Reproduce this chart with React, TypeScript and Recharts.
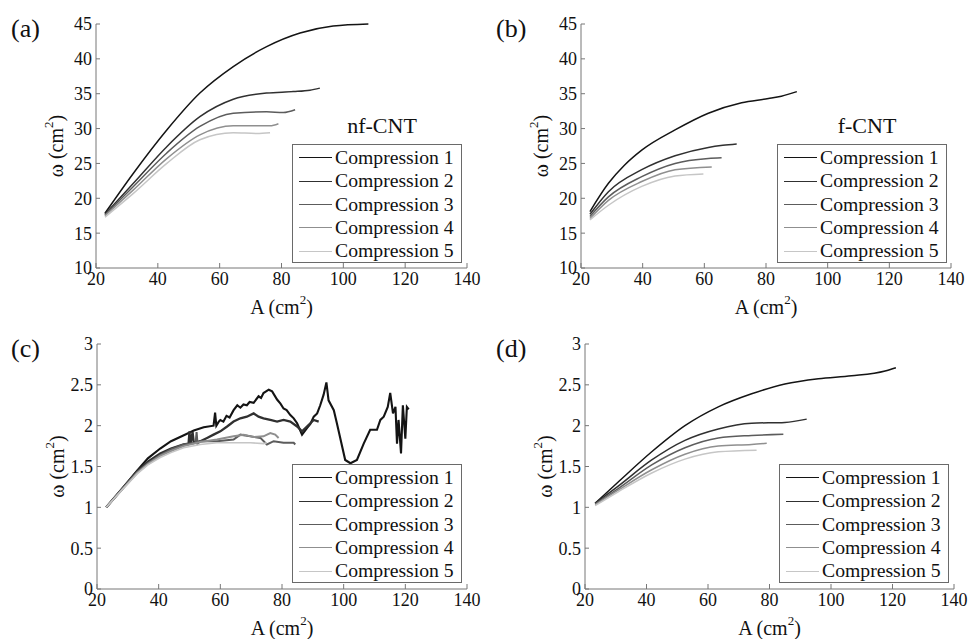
import React from "react";
import { LineChart, Line, XAxis, YAxis, Legend, Label } from "recharts";

type Pt = [number, number];

// shared axis ticks and series names
const X_TICKS = [20, 40, 60, 80, 100, 120, 140];
const Y_TICKS_AREA = [10, 15, 20, 25, 30, 35, 40, 45];
const Y_TICKS_RATIO = [0, 0.5, 1, 1.5, 2, 2.5, 3];
const SERIES_NAMES = [
  "Compression 1",
  "Compression 2",
  "Compression 3",
  "Compression 4",
  "Compression 5",
];
const GRAYS = ["#141414", "#303030", "#5c5c5c", "#8f8f8f", "#c6c6c6"];

// (a) nf-CNT, [A, omega]
const a1: Pt[] = [[22.9, 17.85], [32.1, 23.6], [42.9, 29.8], [53.6, 35.1], [64.4, 38.9], [75.2, 41.75], [86, 43.7], [96.7, 44.7], [108.1, 45.0]];
const a2: Pt[] = [[22.9, 17.7], [32.1, 22.15], [42.9, 27.4], [53.6, 31.7], [64.4, 34.2], [75.2, 35.1], [83.8, 35.3], [89.2, 35.5], [92.4, 35.8]];
const a3: Pt[] = [[22.9, 17.6], [32.1, 21.7], [42.9, 26.5], [53.6, 30.3], [64.4, 32.2], [75.2, 32.4], [80.6, 32.3], [84.4, 32.7]];
const a4: Pt[] = [[22.9, 17.5], [32.1, 21.2], [42.9, 25.7], [53.6, 29.1], [64.4, 30.4], [72, 30.4], [76.3, 30.4], [79, 30.7]];
const a5: Pt[] = [[22.9, 17.3], [32.1, 20.7], [42.9, 25.0], [53.6, 28.4], [64.4, 29.4], [72, 29.3], [76.3, 29.4]];

// (b) f-CNT
const b1: Pt[] = [[22.9, 18.1], [28.9, 22.15], [34, 24.7], [39.7, 26.9], [50.5, 29.8], [61.3, 32.2], [72.1, 33.7], [80.8, 34.3], [85, 34.65], [90, 35.3]];
const b2: Pt[] = [[22.9, 17.7], [28.9, 20.95], [39.7, 24.1], [50.5, 26.1], [61.3, 27.3], [66, 27.6], [70.5, 27.8]];
const b3: Pt[] = [[22.9, 17.4], [28.9, 20.2], [39.7, 23.1], [50.5, 25.0], [61.3, 25.7], [65.6, 25.8]];
const b4: Pt[] = [[22.9, 17.1], [28.9, 19.7], [39.7, 22.4], [50.5, 24.1], [62.4, 24.5]];
const b5: Pt[] = [[22.9, 16.9], [28.9, 19.0], [39.7, 21.7], [50.5, 23.2], [59.7, 23.5]];

// (c) nf-CNT, noisy
const c1: Pt[] = [[23, 1.0], [28, 1.22], [33, 1.45], [36.5, 1.6], [40.5, 1.72], [44, 1.81], [48, 1.88], [51.4, 1.94], [54.6, 1.98], [57.8, 2.0], [58.3, 2.16], [58.7, 2.0], [59.5, 2.05], [60, 2.07], [61, 2.05], [62, 2.12], [63, 2.1], [64.3, 2.19], [65.5, 2.25], [66.5, 2.22], [67.5, 2.26], [68.6, 2.25], [69.5, 2.29], [70.8, 2.28], [72.4, 2.36], [73.2, 2.34], [74, 2.4], [75.7, 2.44], [76.8, 2.42], [78.4, 2.32], [79.5, 2.27], [80.5, 2.21], [81.5, 2.19], [82.7, 2.13], [83.8, 2.09], [84.9, 2.03], [86.5, 1.89], [88.1, 1.97], [89.2, 2.02], [90.3, 2.11], [91.4, 2.15], [92.4, 2.25], [93.5, 2.38], [94.4, 2.53], [95.1, 2.31], [96.8, 2.19], [97.8, 2.03], [100.5, 1.58], [102.2, 1.54], [104.3, 1.58], [106.5, 1.78], [108.6, 1.95], [110.8, 1.95], [111.9, 2.07], [113, 2.11], [114.3, 2.23], [115.1, 2.4], [116, 2.15], [116.8, 2.23], [117.3, 1.78], [117.8, 2.07], [118.6, 1.66], [119.2, 2.25], [120, 1.84], [120.5, 2.23], [121.1, 2.2]];
const c2: Pt[] = [[23, 1.0], [28, 1.22], [33, 1.44], [36.5, 1.56], [40.5, 1.66], [44, 1.72], [48.1, 1.77], [49.7, 1.78], [50, 1.93], [50.3, 1.77], [51, 1.92], [51.4, 1.79], [53.5, 1.81], [55.7, 1.85], [57.8, 1.89], [60, 1.93], [62.2, 1.99], [64.3, 2.05], [66.5, 2.09], [68.6, 2.11], [70.8, 2.15], [72.4, 2.11], [74, 2.09], [76.2, 2.07], [78.4, 2.05], [80.5, 2.07], [82.7, 2.05], [84.9, 1.99], [86.5, 1.93], [88.1, 1.99], [90.3, 2.07], [91.9, 2.05]];
const c3: Pt[] = [[23, 1.0], [28, 1.22], [33, 1.43], [36.5, 1.54], [40.5, 1.64], [44, 1.71], [48.1, 1.77], [52, 1.79], [52.3, 1.92], [52.6, 1.78], [53.5, 1.81], [58.9, 1.81], [64.3, 1.83], [66.5, 1.89], [69.7, 1.87], [73, 1.85], [75.1, 1.77], [77.3, 1.81], [80.5, 1.79], [83.8, 1.79], [84.3, 1.77]];
const c4: Pt[] = [[23, 1.0], [28, 1.21], [33, 1.42], [36.5, 1.53], [40.5, 1.63], [44, 1.69], [48.1, 1.75], [53.5, 1.8], [58.9, 1.83], [64.3, 1.87], [67.6, 1.89], [70.8, 1.86], [74, 1.87], [76.2, 1.91], [77.8, 1.89], [78.9, 1.85]];
const c5: Pt[] = [[23, 1.0], [28, 1.21], [33, 1.41], [36.5, 1.52], [40.5, 1.61], [44, 1.67], [48.1, 1.73], [53.5, 1.77], [58.9, 1.79], [64.3, 1.79], [69.7, 1.79], [74, 1.78], [75.1, 1.79]];

// (d) f-CNT
const d1: Pt[] = [[23.3, 1.05], [30.8, 1.31], [41.7, 1.68], [52.5, 2.0], [63.35, 2.23], [74.2, 2.39], [85, 2.51], [95.9, 2.575], [106.7, 2.61], [117.6, 2.67], [121.1, 2.71]];
const d2: Pt[] = [[23.3, 1.05], [30.8, 1.26], [41.7, 1.58], [52.5, 1.82], [63.35, 1.96], [74.2, 2.03], [85, 2.04], [92.1, 2.08]];
const d3: Pt[] = [[23.3, 1.04], [30.8, 1.23], [41.7, 1.52], [52.5, 1.73], [63.35, 1.85], [74.2, 1.88], [84.5, 1.895]];
const d4: Pt[] = [[23.3, 1.03], [30.8, 1.21], [41.7, 1.46], [52.5, 1.65], [63.35, 1.75], [74.2, 1.77], [79.1, 1.785]];
const d5: Pt[] = [[23.3, 1.02], [30.8, 1.19], [41.7, 1.42], [52.5, 1.59], [63.35, 1.68], [75.8, 1.7]];

const FONT = "Liberation Serif, Tinos, DejaVu Serif, Times New Roman, serif";
const AXIS = "#777";

const tickStyle = { fill: "#111", fontSize: 18, fontFamily: FONT };

interface PanelProps {
  x: number;
  y: number;
  letter: string;
  tag?: string;
  series: Pt[][];
  widths: number[];
  yTicks: number[];
  axisLeft: number;
  right: number;
  xAxisHeight: number;
  curve: "monotone" | "linear";
  legendLeft: number;
}

const LegendBox = ({ payload }: any) => {
  const items = payload && payload.length ? payload : SERIES_NAMES.map((n, i) => ({ value: n, color: GRAYS[i] }));
  return (
    <div
      style={{
        boxSizing: "border-box",
        width: 170,
        height: 119,
        border: "1px solid #6a6a6a",
        background: "#fff",
        paddingTop: 1,
        paddingLeft: 6,
      }}
    >
      {items.map((it: any) => (
        <div key={it.value} style={{ display: "flex", alignItems: "center", height: 23.4 }}>
          <span style={{ display: "inline-block", width: 33, borderTop: `1.5px solid ${it.color}`, marginRight: 3 }} />
          <span style={{ fontFamily: FONT, fontSize: 19.7, color: "#111", lineHeight: 1, whiteSpace: "nowrap" }}>{it.value}</span>
        </div>
      ))}
    </div>
  );
};

function Panel(p: PanelProps) {
  const lo = p.yTicks[0];
  const hi = p.yTicks[p.yTicks.length - 1];
  const lines = p.series.map((s) => s.map(([A, w]) => ({ A, w })));

  return (
    <div style={{ position: "absolute", left: p.x, top: p.y, width: 485, height: 320 }}>
      <LineChart width={485} height={320} margin={{ top: 24, right: p.right, bottom: 0, left: 0 }}>
        <XAxis
          type="number"
          dataKey="A"
          domain={[20, 140]}
          ticks={X_TICKS}
          interval={0}
          height={p.xAxisHeight}
          stroke={AXIS}
          tick={tickStyle}
          tickSize={-5}
          tickMargin={9}
          tickLine={{ stroke: AXIS }}
        >
          <Label
            content={({ viewBox }: any) => (
              <text x={viewBox.x + viewBox.width / 2} y={viewBox.y + 46} textAnchor="middle" fontFamily={FONT} fontSize={20} fill="#111">
                A (cm<tspan dy={-10} fontSize={13}>2</tspan>
                <tspan dy={10}>)</tspan>
              </text>
            )}
          />
        </XAxis>
        <YAxis
          type="number"
          domain={[lo, hi]}
          ticks={p.yTicks}
          interval={0}
          width={p.axisLeft}
          stroke={AXIS}
          tick={tickStyle}
          tickSize={-4}
          tickMargin={8}
          tickLine={{ stroke: AXIS }}
        >
          <Label
            content={({ viewBox }: any) => {
              const tx = viewBox.x + viewBox.width - 33;
              const ty = viewBox.y + viewBox.height / 2;
              return (
                <text x={tx} y={ty} transform={`rotate(-90, ${tx}, ${ty})`} textAnchor="middle" fontFamily={FONT} fontSize={20} fill="#111">
                  ω (cm<tspan dy={-10} fontSize={13}>2</tspan>
                  <tspan dy={10}>)</tspan>
                </text>
              );
            }}
          />
        </YAxis>
        {lines.map((d, i) => (
          <Line
            key={SERIES_NAMES[i]}
            data={d}
            dataKey="w"
            name={SERIES_NAMES[i]}
            type={p.curve}
            stroke={GRAYS[i]}
            strokeWidth={p.widths[i]}
            dot={false}
            activeDot={false}
            isAnimationActive={false}
          />
        ))}
        <Legend
          layout="horizontal"
          align="center"
          verticalAlign="middle"
          content={<LegendBox />}
          wrapperStyle={{ left: p.legendLeft, top: 144, width: 170, height: 119 }}
        />
      </LineChart>
      <svg width={485} height={320} style={{ position: "absolute", left: 0, top: 0, pointerEvents: "none" }}>
        <text x={11} y={37} fontFamily={FONT} fontSize={26} fill="#111">
          {p.letter}
        </text>
        {p.tag && (
          <text x={382} y={133} textAnchor="middle" fontFamily={FONT} fontSize={22} fill="#111">
            {p.tag}
          </text>
        )}
      </svg>
    </div>
  );
}

const SMOOTH_W = [1.5, 1.5, 1.5, 1.5, 1.5];
const NOISY_W = [2.1, 2.3, 2, 2, 1.6];

export default function App() {
  return (
    <div style={{ position: "absolute", left: 0, top: 0, width: 970, height: 639, background: "#fff" }}>
      <Panel x={0} y={0} letter="(a)" tag="nf-CNT" series={[a1, a2, a3, a4, a5]} widths={SMOOTH_W} yTicks={Y_TICKS_AREA} axisLeft={96} right={18} xAxisHeight={52} curve="monotone" legendLeft={292} />
      <Panel x={485} y={0} letter="(b)" tag="f-CNT" series={[b1, b2, b3, b4, b5]} widths={SMOOTH_W} yTicks={Y_TICKS_AREA} axisLeft={96} right={19} xAxisHeight={52} curve="monotone" legendLeft={292} />
      <Panel x={0} y={320} letter="(c)" series={[c1, c2, c3, c4, c5]} widths={NOISY_W} yTicks={Y_TICKS_RATIO} axisLeft={97} right={18} xAxisHeight={51} curve="linear" legendLeft={292} />
      <Panel x={485} y={320} letter="(d)" series={[d1, d2, d3, d4, d5]} widths={SMOOTH_W} yTicks={Y_TICKS_RATIO} axisLeft={100} right={16} xAxisHeight={51} curve="monotone" legendLeft={294} />
    </div>
  );
}
